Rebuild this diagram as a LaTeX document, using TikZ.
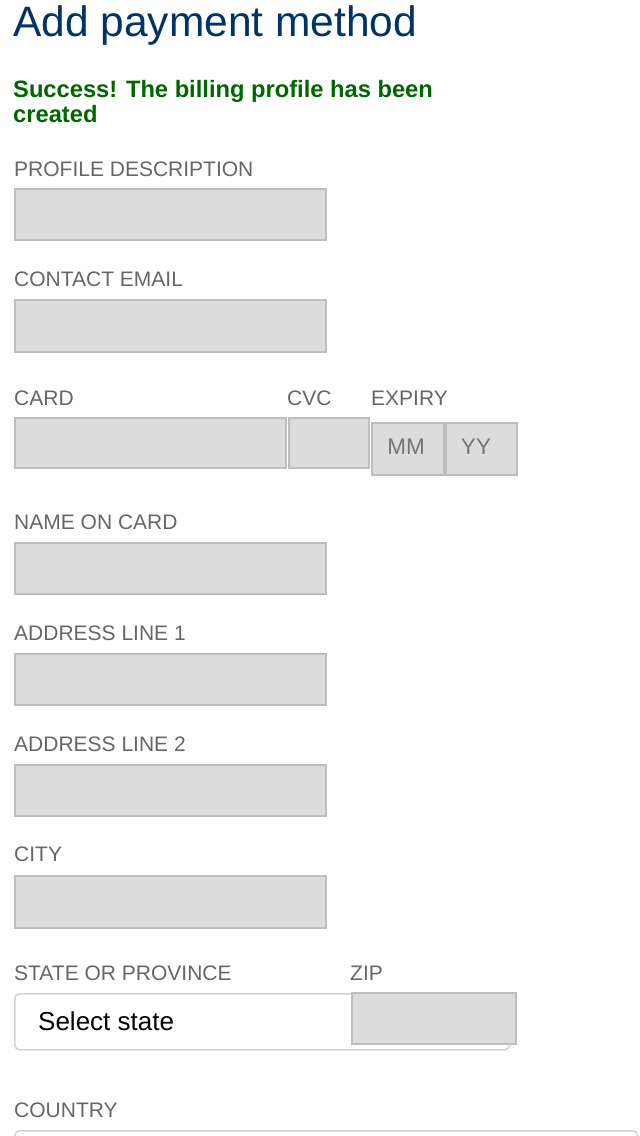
\documentclass[tikz,border=0pt]{standalone}
\usepackage{fontspec}
\setmainfont{Liberation Sans}
\definecolor{titleblue}{RGB}{0,51,102}
\definecolor{okgreen}{RGB}{0,102,0}
\definecolor{lblgray}{RGB}{102,102,102}
\definecolor{fieldfill}{RGB}{220,220,220}
\definecolor{fieldline}{RGB}{190,190,190}
\definecolor{selline}{RGB}{210,210,210}
\begin{document}
\begin{tikzpicture}[x=1pt,y=-1pt,
  lbl/.style={anchor=base west,inner sep=0pt,text=lblgray,font=\fontsize{21}{24}\selectfont},
  field/.style={anchor=north west,draw=fieldline,fill=fieldfill,line width=1.8pt,inner sep=0pt},
  selbox/.style={anchor=north west,draw=selline,fill=white,line width=1.5pt,rounded corners=5pt,inner sep=0pt},
  ph/.style={anchor=base,inner sep=0pt,text=lblgray!90,font=\fontsize{22.5}{26}\selectfont}]
\useasboundingbox (0,0) rectangle (640,1136);
\clip (0,0) rectangle (640,1136);
% title and message
\node[anchor=base west,inner sep=0pt,text=titleblue,font=\fontsize{42.5}{48}\selectfont] (title) at (13,36) {Add payment method};
\node[anchor=base west,inner sep=0pt,text=okgreen,font=\bfseries\fontsize{23.7}{26}\selectfont] (succ1) at (13,97) {Success! The billing profile has been};
\node[anchor=base west,inner sep=0pt,text=okgreen,font=\bfseries\fontsize{23.7}{26}\selectfont] (succ2) at (13,122) {created};
% profile description
\node[lbl] (l1) at (14,176) {PROFILE DESCRIPTION};
\node[field,minimum width=311pt,minimum height=51pt] (f1) at (14,188) {};
% contact email
\node[lbl] (l2) at (14,286) {CONTACT EMAIL};
\node[field,minimum width=311pt,minimum height=52pt] (f2) at (14,299) {};
% card row
\node[lbl] (l3) at (14,405) {CARD};
\node[lbl] (l3b) at (287,405) {CVC};
\node[lbl] (l3c) at (371,405) {EXPIRY};
\node[field,minimum width=271pt,minimum height=50pt] (card) at (14,417) {};
\node[field,minimum width=80pt,minimum height=50pt] (cvc) at (288,417) {};
\node[field,minimum width=72pt,minimum height=52pt] (mm) at (371,422) {};
\node[field,minimum width=71pt,minimum height=52pt] (yy) at (445,422) {};
\node[ph] (mmt) at (406,454) {MM};
\node[ph] (yyt) at (476,454) {YY};
% name on card
\node[lbl] (l4) at (14,529) {NAME ON CARD};
\node[field,minimum width=311pt,minimum height=51pt] (f4) at (14,542) {};
% address 1
\node[lbl] (l5) at (14,640) {ADDRESS LINE 1};
\node[field,minimum width=311pt,minimum height=51pt] (f5) at (14,653) {};
% address 2
\node[lbl] (l6) at (14,751) {ADDRESS LINE 2};
\node[field,minimum width=311pt,minimum height=51pt] (f6) at (14,764) {};
% city
\node[lbl] (l7) at (14,861) {CITY};
\node[field,minimum width=311pt,minimum height=52pt] (f7) at (14,875) {};
% state / zip
\node[lbl] (l8) at (14,980) {STATE OR PROVINCE};
\node[lbl] (l8b) at (350,980) {ZIP};
\node[selbox,minimum width=495pt,minimum height=56pt] (state) at (14,993) {};
\node[anchor=base west,inner sep=0pt,font=\fontsize{26}{28}\selectfont] (statet) at (38,1030) {Select state};
\node[field,minimum width=164pt,minimum height=51pt] (zip) at (351,992) {};
% country
\node[lbl] (l9) at (14,1117) {COUNTRY};
\node[selbox,minimum width=623pt,minimum height=40pt] (country) at (14,1130) {};
\end{tikzpicture}
\end{document}
